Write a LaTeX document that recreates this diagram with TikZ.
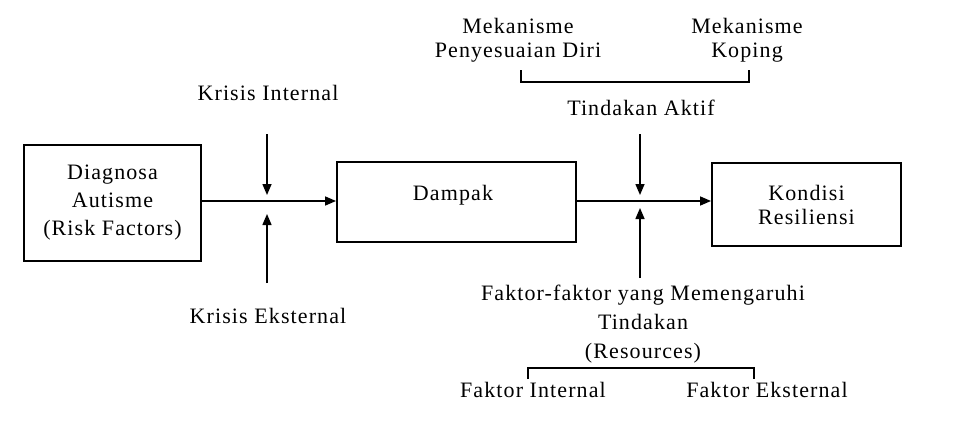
\documentclass[tikz,border=0pt]{standalone}
\usepackage{fontspec}
\setmainfont{Liberation Serif}[LetterSpace=5]
\usetikzlibrary{arrows.meta}

\begin{document}
\begin{tikzpicture}[x=1pt,y=-1pt,line width=1.5pt,
  every node/.style={align=center,inner sep=0pt,font=\fontsize{22}{24}\selectfont},
  box/.style={draw,line width=1.9pt,minimum width=#1},
  arr/.style={-{Triangle[length=11pt,width=9pt]}}]
  \useasboundingbox (0,0) rectangle (962,423);
  % kotak utama
  \node[box=177pt,minimum height=116pt,font=\fontsize{22}{28}\selectfont] (diag) at (112.5,203) {Diagnosa\\Autisme\\(Risk Factors)};
  \node[box=239pt,minimum height=80pt] (dampak) at (456.5,202) {};
  \node (dampaktxt) at (453,195) {Dampak};
  \node[box=189pt,minimum height=83pt] (kondisi) at (806.5,204.5) {Kondisi\\Resiliensi};
  % krisis
  \node (kint) at (268,93) {Krisis Internal};
  \node (keks) at (268,316) {Krisis Eksternal};
  \coordinate (j1) at (267,201);
  \coordinate (k1) at (267,134);
  \coordinate (k2) at (267,283);
  % tindakan aktif
  \node (mp) at (518,40) {Mekanisme\\Penyesuaian Diri};
  \node (mk) at (747,40) {Mekanisme\\Koping};
  \coordinate (bl) at (521,70);
  \coordinate (br) at (749,70);
  \node (aktif) at (641,108) {Tindakan Aktif};
  \coordinate (j2) at (640,201);
  \coordinate (t1) at (640,134);
  \coordinate (t2) at (640,278);
  % resources
  \node[font=\fontsize{22}{29}\selectfont] (res) at (643,324) {Faktor-faktor yang Memengaruhi\\Tindakan\\(Resources)};
  \node (fint) at (533,390) {Faktor Internal};
  \node (feks) at (767,390) {Faktor Eksternal};
  \coordinate (fl) at (528,379);
  \coordinate (fr) at (754,379);

  \draw[arr] (diag.east |- j1) -- (j1) -- (j1 -| dampak.west);
  \draw[arr] (dampak.east |- j2) -- (j2) -- (j2 -| kondisi.west);
  \draw[arr,shorten >=6pt] (k1) -- (j1);
  \draw[arr,shorten >=13pt] (k2) -- (j1);
  \draw[arr,shorten >=6pt] (t1) -- (j2);
  \draw[arr,shorten >=7pt] (t2) -- (j2);
  \draw (bl) -- ++(0,12) -| (br);
  \draw (fl) -- ++(0,-11) -| (fr);
\end{tikzpicture}
\end{document}
